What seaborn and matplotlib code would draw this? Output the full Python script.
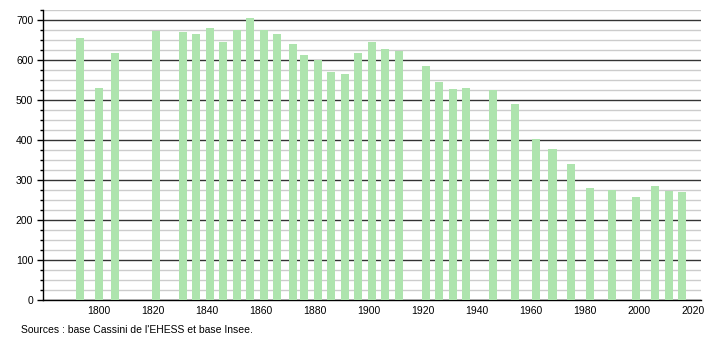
import matplotlib
matplotlib.use("Agg")
import matplotlib.pyplot as plt
import seaborn as sns
import pandas as pd
from matplotlib.ticker import MultipleLocator

years = [1793, 1800, 1806, 1821, 1831, 1836, 1841, 1846, 1851, 1856, 1861, 1866,
         1872, 1876, 1881, 1886, 1891, 1896, 1901, 1906, 1911, 1921, 1926, 1931,
         1936, 1946, 1954, 1962, 1968, 1975, 1982, 1990, 1999, 2006, 2011, 2016]
population = [655, 530, 617, 672, 670, 665, 680, 645, 675, 705, 675, 665,
              640, 612, 600, 570, 565, 617, 645, 627, 622, 585, 545, 527,
              530, 525, 490, 402, 377, 340, 280, 275, 257, 285, 272, 270]
x_ticks = [1800, 1820, 1840, 1860, 1880, 1900, 1920, 1940, 1960, 1980, 2000, 2020]
y_ticks = [0, 100, 200, 300, 400, 500, 600, 700]
source_text = "Sources : base Cassini de l'EHESS et base Insee."

df = pd.DataFrame({"year": years, "population": population})

sns.set_style("white")
plt.rcParams["font.family"] = ["Liberation Sans", "DejaVu Sans"]
plt.rcParams["text.color"] = "black"
plt.rcParams["xtick.color"] = "black"
plt.rcParams["ytick.color"] = "black"

fig = plt.figure(figsize=(7.1, 3.4), dpi=100)
ax = fig.add_axes([43 / 710, 40 / 340, (701 - 43) / 710, 290 / 340])

sns.barplot(data=df, x="year", y="population", native_scale=True, width=0.75,
            color="#aee4ae", saturation=1, ax=ax, zorder=3, linewidth=0)

ax.set_xlim(1779.3, 2023.0)
ax.set_ylim(0, 725)
ax.set_xticks(x_ticks)
ax.set_xticklabels([str(t) for t in x_ticks])
ax.set_yticks(y_ticks)
ax.yaxis.set_minor_locator(MultipleLocator(25))
ax.set_xlabel("")
ax.set_ylabel("")

ax.grid(False)
ax.grid(True, axis="y", which="minor", color="#cccccc", linewidth=1.0, zorder=0)
ax.grid(True, axis="y", which="major", color="#333333", linewidth=1.0, zorder=1)
ax.set_axisbelow(True)

for s in ["top", "right"]:
    ax.spines[s].set_visible(False)
for s in ["left", "bottom"]:
    ax.spines[s].set_color("black")
    ax.spines[s].set_linewidth(1.0)

ax.tick_params(axis="y", which="major", length=4, width=1, colors="black",
               labelsize=7.5, pad=3, left=True)
ax.tick_params(axis="y", which="minor", length=2, width=1, colors="black", left=True)
ax.tick_params(axis="x", which="both", length=0, labelsize=7.5, pad=4, colors="black")

fig.text(21 / 710, 1 - 330 / 340, source_text, fontsize=7.5, va="center", ha="left",
         color="black")

fig.savefig("out.png", dpi=100)
